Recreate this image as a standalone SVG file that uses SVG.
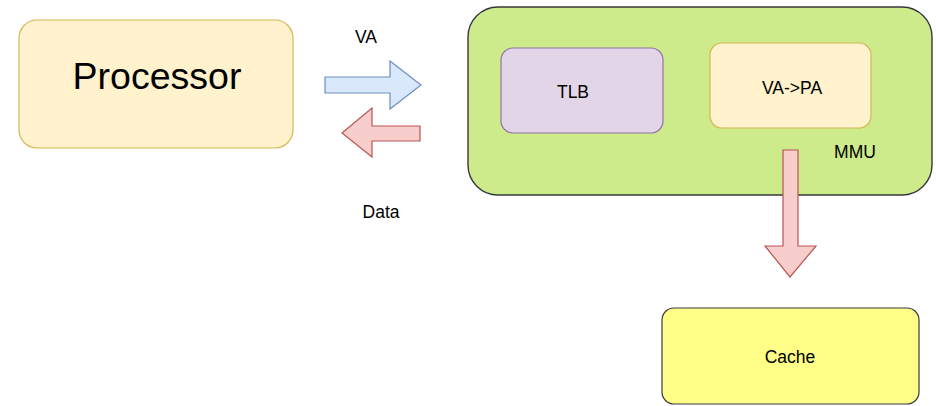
<svg xmlns="http://www.w3.org/2000/svg" width="936" height="406" viewBox="0 0 936 406">
  <style>
    text { font-family: "Liberation Sans", Arial, sans-serif; fill: #000; text-anchor: middle; dominant-baseline: central; }
    .box { stroke-width: 1.2; }
    .yellow { fill: #fff2cc; stroke: #d6b656; }
    .purple { fill: #e1d5e7; stroke: #9673a6; }
    .green { fill: #cdeb8b; stroke: #36393d; stroke-width: 1.4; }
    .note { fill: #ffff88; stroke: #36393d; }
    .blue-arrow { fill: #dae8fc; stroke: #6c8ebf; stroke-width: 1.2; stroke-linejoin: miter; }
    .red-arrow { fill: #f8cecc; stroke: #b85450; stroke-width: 1.2; stroke-linejoin: miter; }
    .lbl { font-size: 17.5px; }
  </style>
  <rect width="936" height="406" fill="#ffffff"/>

  <g id="processor">
    <rect class="box yellow" x="19" y="20" width="274" height="128" rx="18"/>
    <text x="157" y="76" style="font-size:37.5px">Processor</text>
  </g>

  <g id="mmu">
    <rect class="box green" x="468" y="7" width="464" height="188" rx="30"/>
    <text class="lbl" x="855" y="152">MMU</text>
  </g>

  <g id="tlb">
    <rect class="box purple" x="501" y="48" width="162" height="85" rx="12"/>
    <text class="lbl" x="573" y="92">TLB</text>
  </g>

  <g id="va-pa">
    <rect class="box yellow" x="710" y="43" width="161" height="85" rx="12"/>
    <text class="lbl" x="792" y="88">VA-&gt;PA</text>
  </g>

  <g id="cache">
    <rect class="box note" x="662" y="308" width="257" height="96" rx="12"/>
    <text class="lbl" x="790" y="357">Cache</text>
  </g>

  <g id="connectors">
    <!-- VA request: processor to MMU -->
    <path class="blue-arrow" d="M325,77 H390 V61 L421,85 L390,109 V93 H325 Z"/>
    <!-- data returned to processor -->
    <path class="red-arrow" d="M420,126 H372 V108 L342,133 L372,157 V141 H420 Z"/>
    <!-- physical address out to cache -->
    <path class="red-arrow" d="M783,150 H798 V246 H816 L790,277 L765,246 H783 Z"/>
    <text class="lbl" x="366" y="37">VA</text>
    <text class="lbl" x="381" y="212">Data</text>
  </g>
</svg>
